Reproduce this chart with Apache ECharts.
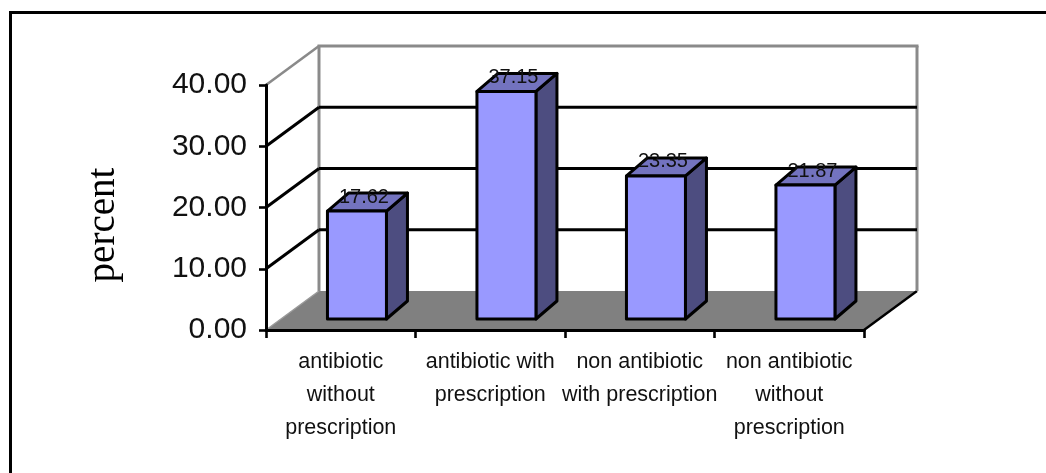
<!DOCTYPE html>
<html>
<head>
<meta charset="utf-8">
<style>html,body{margin:0;padding:0;background:#fff}#c{width:1046px;height:473px}</style>
<script src="https://cdn.jsdelivr.net/npm/echarts@6/dist/echarts.min.js"></script>
</head>
<body>
<div id="c"></div>
<script>
var categories = ['antibiotic\nwithout\nprescription', 'antibiotic with\nprescription', 'non antibiotic\nwith prescription', 'non antibiotic\nwithout\nprescription'];
var percentValues = [17.62, 37.15, 23.35, 21.87];
var valueTicks = [0, 10, 20, 30, 40];
var axisTitle = 'percent';

var WALL_DX = 53, WALL_DY = -39;
var BAR_SHIFT_X = 16.2, BAR_SHIFT_Y = -11, BAR_W = 59, SIDE_DX = 21, SIDE_DY = -18;
var INK = '#000';

function line(x1, y1, x2, y2, color, w) {
  return { type: 'line', shape: { x1: x1, y1: y1, x2: x2, y2: y2 }, style: { stroke: color, lineWidth: w, fill: null } };
}
function poly(points, fill) {
  return { type: 'polygon', shape: { points: points }, style: { fill: fill, stroke: INK, lineWidth: 3, lineJoin: 'round' } };
}

function renderWalls(params, api) {
  var cs = params.coordSys;
  var tick = api.value(1);
  var y = api.coord([0, tick])[1];
  var left = cs.x, right = cs.x + cs.width;
  var kids = [];
  var bx = left + WALL_DX, by = y + WALL_DY;
  if (tick === 0) {
    kids.push({ type: 'polygon', shape: { points: [[left, y], [right, y], [right + WALL_DX, by], [bx, by]] }, style: { fill: '#808080' } });
    kids.push(line(left, y, bx, by, '#9a9a9a', 1.5));
    kids.push(line(right, y, right + WALL_DX, by, INK, 2.4));
    kids.push(line(bx, by, bx, cs.y + WALL_DY, '#8a8a8a', 3));
    kids.push(line(right + WALL_DX, by, right + WALL_DX, cs.y + WALL_DY, '#8a8a8a', 3));
  } else if (tick === 40) {
    kids.push(line(left, y, bx, by, '#8a8a8a', 2.6));
    kids.push(line(bx - 1.5, by, right + WALL_DX + 1.5, by, '#8a8a8a', 3));
  } else {
    kids.push(line(left, y, bx, by, INK, 3));
    kids.push(line(bx, by, right + WALL_DX, by, INK, 3));
  }
  return { type: 'group', children: kids };
}

function renderBars(params, api) {
  var i = api.value(0), v = api.value(1);
  var top = api.coord([i, v]), base = api.coord([i, 0]);
  var x0 = top[0] + BAR_SHIFT_X - BAR_W / 2, x1 = x0 + BAR_W;
  var yT = top[1] + BAR_SHIFT_Y, yB = base[1] + BAR_SHIFT_Y;
  return {
    type: 'group',
    children: [
      poly([[x1, yT], [x1 + SIDE_DX, yT + SIDE_DY], [x1 + SIDE_DX, yB + SIDE_DY], [x1, yB]], '#4D4D80'),
      poly([[x0, yT], [x0 + SIDE_DX, yT + SIDE_DY], [x1 + SIDE_DX, yT + SIDE_DY], [x1, yT]], '#7373BF'),
      poly([[x0, yT], [x1, yT], [x1, yB], [x0, yB]], '#9999FF'),
      {
        type: 'text',
        style: {
          text: v.toFixed(2), x: (x0 + x1) / 2 + 7, y: yT - 14,
          align: 'center', verticalAlign: 'middle',
          font: '20px "Liberation Sans", Arial, sans-serif', fill: '#111'
        }
      }
    ]
  };
}

var chart = echarts.init(document.getElementById('c'), null, { renderer: 'canvas' });
chart.setOption({
  animation: false,
  backgroundColor: '#fff',
  grid: { left: 266, top: 85, width: 598, height: 245, containLabel: false },
  graphic: [{
    type: 'polyline', silent: true,
    shape: { points: [[10.5, 473], [10.5, 12.5], [1046, 12.5]] },
    style: { stroke: '#000', lineWidth: 3, fill: null }
  }],
  xAxis: {
    type: 'category', data: categories,
    axisLine: { show: true, lineStyle: { color: INK, width: 3 } },
    axisTick: { show: true, length: 8, alignWithLabel: false, lineStyle: { color: INK, width: 2.6 } },
    axisLabel: {
      interval: 0, margin: 16, lineHeight: 33, color: '#111', align: 'center',
      fontFamily: '"Liberation Sans", Arial, sans-serif', fontSize: 21.5
    },
    z: 5
  },
  yAxis: {
    type: 'value', min: 0, max: 40, interval: 10,
    name: axisTitle, nameLocation: 'middle', nameGap: 143, nameRotate: 90,
    nameTextStyle: { fontFamily: '"Liberation Serif", "Times New Roman", serif', fontSize: 39, color: '#000', padding: [0, 35, 0, 0] },
    axisLine: { show: true, lineStyle: { color: INK, width: 3 } },
    axisTick: { show: true, length: 7, lineStyle: { color: INK, width: 2.6 } },
    axisLabel: {
      margin: 19, color: '#111', fontSize: 30,
      fontFamily: '"Liberation Sans", Arial, sans-serif',
      formatter: function (v) { return v.toFixed(2); }
    },
    splitLine: { show: false },
    z: 5
  },
  series: [
    {
      type: 'custom', name: 'walls', clip: false, silent: true, z: 1,
      encode: { x: 0, y: 1 },
      renderItem: renderWalls,
      data: valueTicks.map(function (t) { return [0, t]; })
    },
    {
      type: 'custom', name: 'percent', clip: false, silent: true, z: 3,
      encode: { x: 0, y: 1 },
      renderItem: renderBars,
      data: percentValues.map(function (v, i) { return [i, v]; })
    }
  ]
});
</script>
</body>
</html>
